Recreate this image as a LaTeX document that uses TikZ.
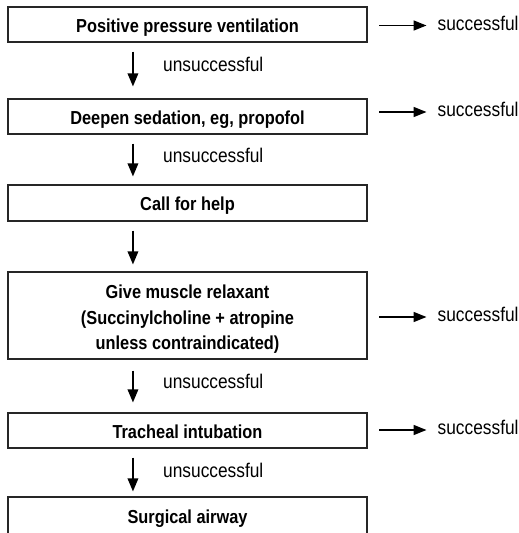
\documentclass[tikz,border=0pt]{standalone}
\usepackage{fontspec}
\setmainfont{Liberation Sans}
\newfontfamily\bxfont[FakeStretch=0.87]{Liberation Sans Bold}
\newfontfamily\rgfont[FakeStretch=0.875]{Liberation Sans}
\usetikzlibrary{arrows.meta}
\newcommand{\dn}[2][3.5pt]{\raisebox{-#1}[\height][\depth]{#2}}
\tikzset{
  stepbox/.style={draw=black!85, line width=1.1pt, minimum width=359pt, inner sep=0pt,
    font=\bxfont\fontsize{18.8}{25.5}\selectfont, align=center, text=black},
  varr/.style={line width=1.6pt, -{Triangle[width=10.5pt,length=13pt]}},
  harr/.style={line width=1.6pt, -{Triangle[width=10pt,length=13pt]}},
  lbl/.style={anchor=west, inner sep=0pt, font=\rgfont\fontsize{19.8}{20}\selectfont},
  okl/.style={anchor=west, inner xsep=11pt, inner ysep=0pt, font=\rgfont\fontsize{19.8}{20}\selectfont}
}
\begin{document}
\begin{tikzpicture}[x=1pt,y=-1pt]
\clip (0,0) rectangle (519,533);
\fill[white] (0,0) rectangle (519,533);
\node[stepbox, minimum height=35pt] (b1) at (187.5,24.5) {\dn{Positive pressure ventilation}};
\node[stepbox, minimum height=35pt] (b2) at (187.5,116.5) {\dn{Deepen sedation, eg, propofol}};
\node[stepbox, minimum height=36pt] (b3) at (187.5,203) {\dn[3pt]{Call for help}};
\node[stepbox, minimum height=87pt] (b4) at (187.5,315.5) {\dn[4pt]{\parbox{300pt}{\centering Give muscle relaxant\\(Succinylcholine + atropine\\unless contraindicated)}}};
\node[stepbox, minimum height=35pt] (b5) at (187.5,430.5) {\dn[1.5pt]{Tracheal intubation}};
\node[stepbox, minimum height=50pt, text depth=0pt] (b6) at (187.5,522) {\raisebox{11pt}{Surgical airway}};
% vertical arrows
\draw[varr] ([xshift=125.5pt,yshift=-9pt]b1.south west) -- ([xshift=125.5pt,yshift=12pt]b2.north west);
\draw[varr] ([xshift=125.5pt,yshift=-9pt]b2.south west) -- ([xshift=125.5pt,yshift=8pt]b3.north west);
\draw[varr] ([xshift=125.5pt,yshift=-9pt]b3.south west) -- ([xshift=125.5pt,yshift=7pt]b4.north west);
\draw[varr] ([xshift=125.5pt,yshift=-11pt]b4.south west) -- ([xshift=125.5pt,yshift=10pt]b5.north west);
\draw[varr] ([xshift=125.5pt,yshift=-9pt]b5.south west) -- ([xshift=125.5pt,yshift=5pt]b6.north west);
% unsuccessful labels
\node[lbl] (u1) at (163,64.5) {unsuccessful};
\node[lbl] (u2) at (163,155.5) {unsuccessful};
\node[lbl] (u4) at (163,381.5) {unsuccessful};
\node[lbl] (u5) at (163,470.5) {unsuccessful};
% successful
\coordinate (c1) at (379,25.5);
\coordinate (c2) at (379,112);
\coordinate (c4) at (379,317);
\coordinate (c5) at (379,430);
\node[okl] (s1) at (426.5,23) {successful};
\node[okl] (s2) at (426.5,109) {successful};
\node[okl] (s4) at (426.5,314.5) {successful};
\node[okl] (s5) at (426.5,427.5) {successful};
\draw[harr] (c1) -- (c1 -| s1.west);
\draw[harr] (c2) -- (c2 -| s2.west);
\draw[harr] (c4) -- (c4 -| s4.west);
\draw[harr] (c5) -- (c5 -| s5.west);
\end{tikzpicture}
\end{document}
